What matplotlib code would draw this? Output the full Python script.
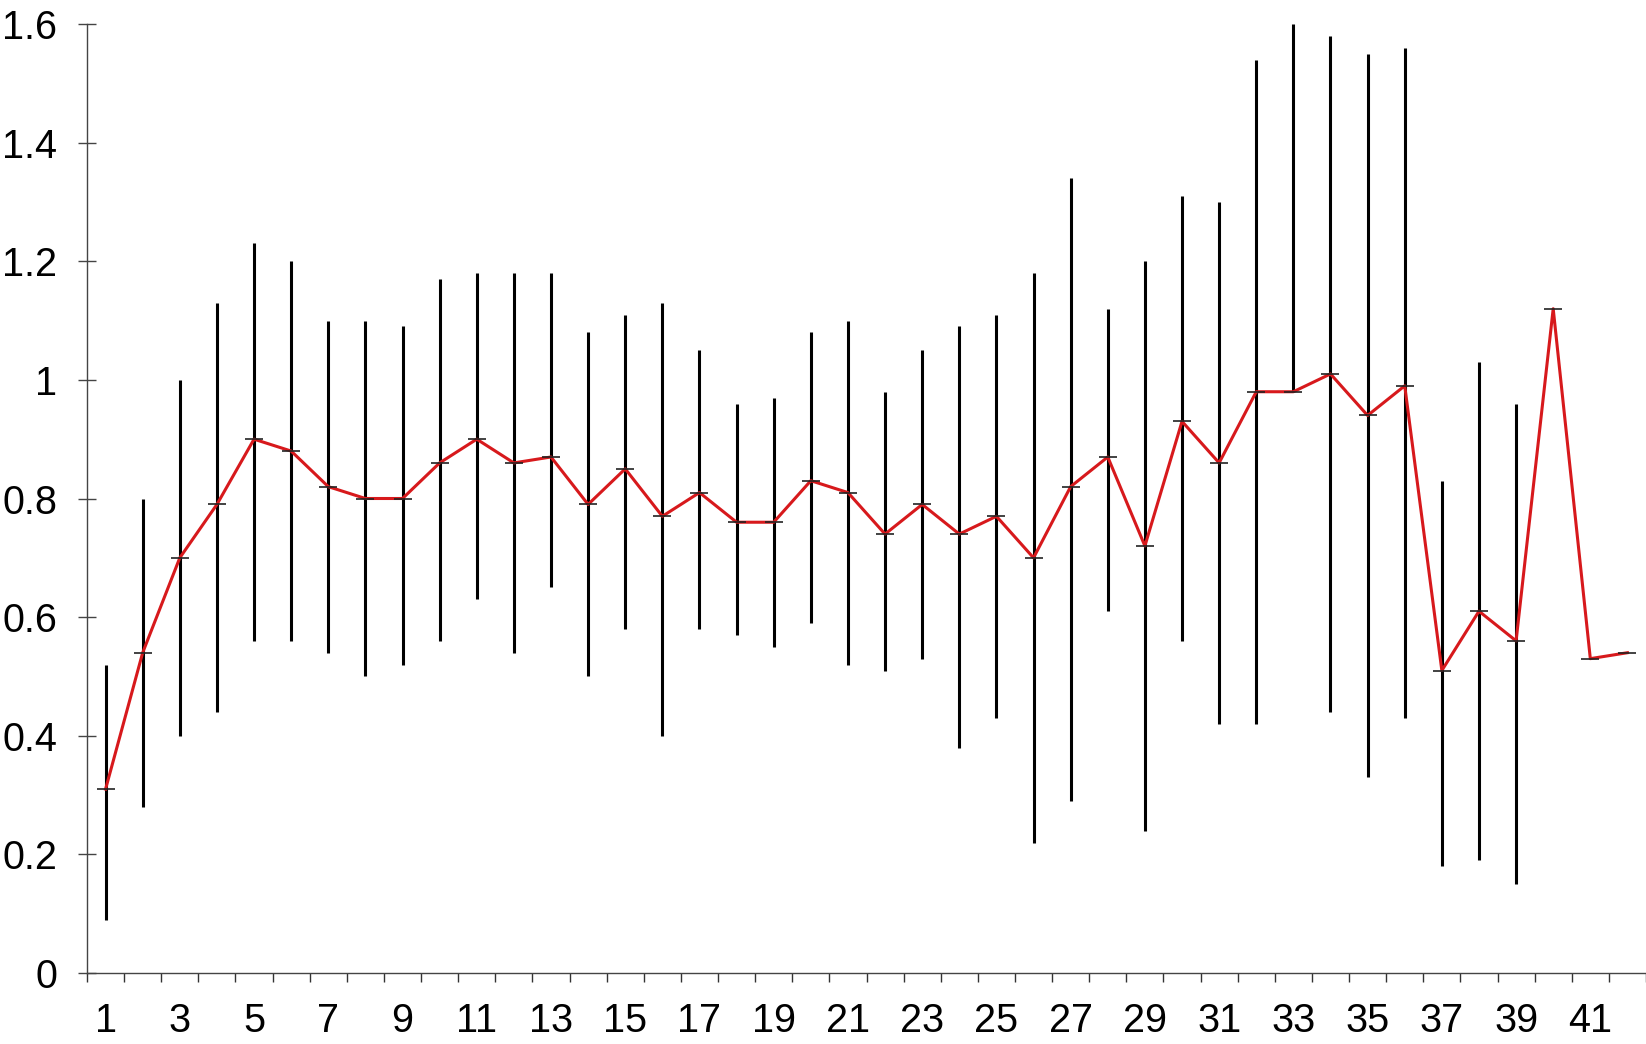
import matplotlib

matplotlib.use("Agg")
import matplotlib.pyplot as plt
import numpy as np


# per-category mean with lower / upper whisker ends (nan = no whisker drawn)
CATEGORIES = list(range(1, 43))
MEANS = [
    0.31, 0.54, 0.70, 0.79, 0.90, 0.88, 0.82, 0.80, 0.80, 0.86,
    0.90, 0.86, 0.87, 0.79, 0.85, 0.77, 0.81, 0.76, 0.76, 0.83,
    0.81, 0.74, 0.79, 0.74, 0.77, 0.70, 0.82, 0.87, 0.72, 0.93,
    0.86, 0.98, 0.98, 1.01, 0.94, 0.99, 0.51, 0.61, 0.56, 1.12,
    0.53, 0.54,
]
LOWS = [
    0.09, 0.28, 0.40, 0.44, 0.56, 0.56, 0.54, 0.50, 0.52, 0.56,
    0.63, 0.54, 0.65, 0.50, 0.58, 0.40, 0.58, 0.57, 0.55, 0.59,
    0.52, 0.51, 0.53, 0.38, 0.43, 0.22, 0.29, 0.61, 0.24, 0.56,
    0.42, 0.42, 0.98, 0.44, 0.33, 0.43, 0.18, 0.19, 0.15, np.nan,
    np.nan, np.nan,
]
HIGHS = [
    0.52, 0.80, 1.00, 1.13, 1.23, 1.20, 1.10, 1.10, 1.09, 1.17,
    1.18, 1.18, 1.18, 1.08, 1.11, 1.13, 1.05, 0.96, 0.97, 1.08,
    1.10, 0.98, 1.05, 1.09, 1.11, 1.18, 1.34, 1.12, 1.20, 1.31,
    1.30, 1.54, 1.60, 1.58, 1.55, 1.56, 0.83, 1.03, 0.96, np.nan,
    np.nan, np.nan,
]
Y_TICKS = [0, 0.2, 0.4, 0.6, 0.8, 1.0, 1.2, 1.4, 1.6]
Y_TICK_LABELS = ["0", "0.2", "0.4", "0.6", "0.8", "1", "1.2", "1.4", "1.6"]

AXIS_COLOR = "#444444"
LINE_COLOR = "#d7191c"

plt.rcParams["font.family"] = ["Liberation Sans", "DejaVu Sans"]

fig = plt.figure(figsize=(16.46, 10.44), dpi=100)
fig.patch.set_facecolor("white")
ax = fig.add_axes([87 / 1646, 71 / 1044, (1646 - 87) / 1646, (1020 - 71) / 1044])

x = np.array(CATEGORIES, dtype=float)
means = np.array(MEANS)
lows = np.array(LOWS)
highs = np.array(HIGHS)
has_bar = np.isfinite(lows) & np.isfinite(highs)

ax.vlines(x[has_bar], lows[has_bar], highs[has_bar], color="black", linewidth=2.2, zorder=2, clip_on=False)
ax.plot(x, means, color=LINE_COLOR, linewidth=2.2, zorder=3)
ax.plot(x, means, linestyle="none", marker="_", markersize=13, markeredgewidth=1.2, color="#222222", zorder=4)

ax.set_xlim(0.5, 42.5)
ax.set_ylim(0, 1.6)

ax.set_yticks(Y_TICKS)
ax.set_yticklabels(Y_TICK_LABELS)
ax.tick_params(axis="y", direction="inout", length=13, width=1, color=AXIS_COLOR, labelsize=28.5, pad=15)

odd = [c for c in CATEGORIES if c % 2 == 1]
ax.set_xticks(odd)
ax.set_xticklabels([str(c) for c in odd])
ax.set_xticks(np.arange(0.5, 43, 1.0), minor=True)
ax.tick_params(axis="x", which="major", length=0, labelsize=28.5, pad=21)
ax.tick_params(axis="x", which="minor", direction="out", length=6.5, width=1, color="#333333")

for side in ("top", "right"):
    ax.spines[side].set_visible(False)
for side in ("left", "bottom"):
    ax.spines[side].set_color(AXIS_COLOR)
    ax.spines[side].set_linewidth(1)

fig.savefig("out.png", dpi=100)
